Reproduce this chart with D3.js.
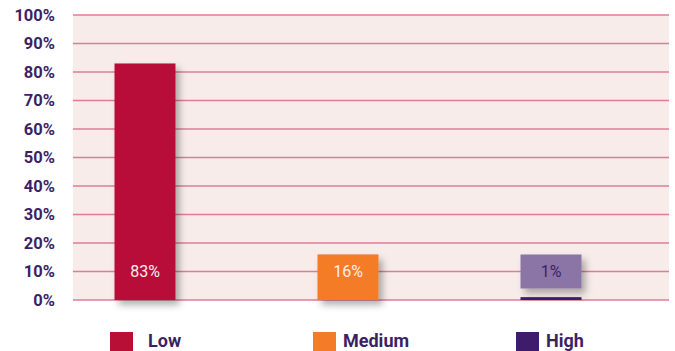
<!DOCTYPE html>
<html>
<head>
<meta charset="utf-8">
<script src="https://cdn.jsdelivr.net/npm/d3@7"></script>
<style>
  body { margin: 0; background: #fff; }
  svg { display: block; }
</style>
</head>
<body>
<svg id="chart"></svg>
<script>
// data
var categories = ["Low", "Medium", "High"];
var values = [83, 16, 1];
var colors = ["#b80f37", "#f47b27", "#3f1b6b"];
var yTicks = [0, 10, 20, 30, 40, 50, 60, 70, 80, 90, 100];

function main(){
    var svgWidth = 675, svgHeight = 351;
    var left = 73, right = 669, top = 15, bottom = 300;
    var barWidth = 61;

    var svg = d3.select('#chart')
        .attr('width', svgWidth)
        .attr('height', svgHeight)
        .style('font-family', 'Roboto, "DejaVu Sans", sans-serif');

    var defs = svg.append('defs');
    var f = defs.append('filter').attr('id', 'shadow')
        .attr('x', '-30%').attr('y', '-30%').attr('width', '160%').attr('height', '160%');
    f.append('feDropShadow')
        .attr('dx', 4).attr('dy', 5)
        .attr('stdDeviation', 3.5)
        .attr('flood-color', '#000')
        .attr('flood-opacity', 0.3);

    var yScale = d3.scaleLinear().domain([0, 100]).range([bottom, top]);
    var xScale = d3.scalePoint().domain(categories).range([145, 551]);

    // plot background
    svg.append('rect')
        .attr('x', left).attr('y', top)
        .attr('width', right - left).attr('height', bottom - top)
        .attr('fill', '#f7ecea');

    // gridlines
    svg.selectAll('line.grid')
        .data(yTicks)
        .enter()
        .append('line')
        .attr('class', 'grid')
        .attr('x1', left).attr('x2', right)
        .attr('y1', function(d){ return yScale(d); })
        .attr('y2', function(d){ return yScale(d); })
        .attr('stroke', '#e07c97')
        .attr('stroke-width', 1.5);

    // y labels
    svg.selectAll('text.ylab')
        .data(yTicks)
        .enter()
        .append('text')
        .attr('class', 'ylab')
        .attr('x', 55)
        .attr('y', function(d){ return yScale(d); })
        .attr('dy', '0.36em')
        .attr('text-anchor', 'end')
        .attr('fill', '#3d1f66')
        .attr('font-size', '16.5px')
        .attr('font-weight', 'bold')
        .text(function(d){ return d + '%'; });

    // bars
    svg.selectAll('rect.bar')
        .data(values)
        .enter()
        .append('rect')
        .attr('class', 'bar')
        .attr('x', function(d, i){ return xScale(categories[i]) - barWidth / 2; })
        .attr('y', function(d){ return yScale(d); })
        .attr('width', barWidth)
        .attr('height', function(d){ return bottom - yScale(d); })
        .attr('fill', function(d, i){ return colors[i]; })
        .attr('filter', 'url(#shadow)');

    // label box for the small bar
    var labelY = yScale(10);
    values.forEach(function(d, i){
        if (yScale(d) > labelY - 17) {
            svg.append('rect')
                .attr('x', xScale(categories[i]) - barWidth / 2)
                .attr('y', labelY - 17)
                .attr('width', barWidth)
                .attr('height', 34)
                .attr('fill', '#8a74a6')
                .attr('filter', 'url(#shadow)');
        }
    });

    // value labels
    svg.selectAll('text.val')
        .data(values)
        .enter()
        .append('text')
        .attr('class', 'val')
        .attr('x', function(d, i){ return xScale(categories[i]); })
        .attr('y', labelY)
        .attr('dy', '0.36em')
        .attr('text-anchor', 'middle')
        .attr('font-size', '16px')
        .attr('fill', function(d){ return yScale(d) > labelY - 17 ? '#3d1f66' : '#fbeef0'; })
        .text(function(d){ return d + '%'; });

    // legend
    var legend = svg.selectAll('g.legend')
        .data(categories)
        .enter()
        .append('g')
        .attr('class', 'legend')
        .attr('transform', function(d){ return 'translate(' + (xScale(d) - 35) + ',332)'; });
    legend.append('rect')
        .attr('width', 23).attr('height', 23)
        .attr('fill', function(d, i){ return colors[i]; });
    legend.append('text')
        .attr('x', function(d, i){ return i == 0 ? 38 : 30; })
        .attr('y', 15)
        .attr('fill', '#3d1f66')
        .attr('font-size', '18px')
        .attr('font-weight', 'bold')
        .text(function(d){ return d; });
}
main();
</script>
</body>
</html>
